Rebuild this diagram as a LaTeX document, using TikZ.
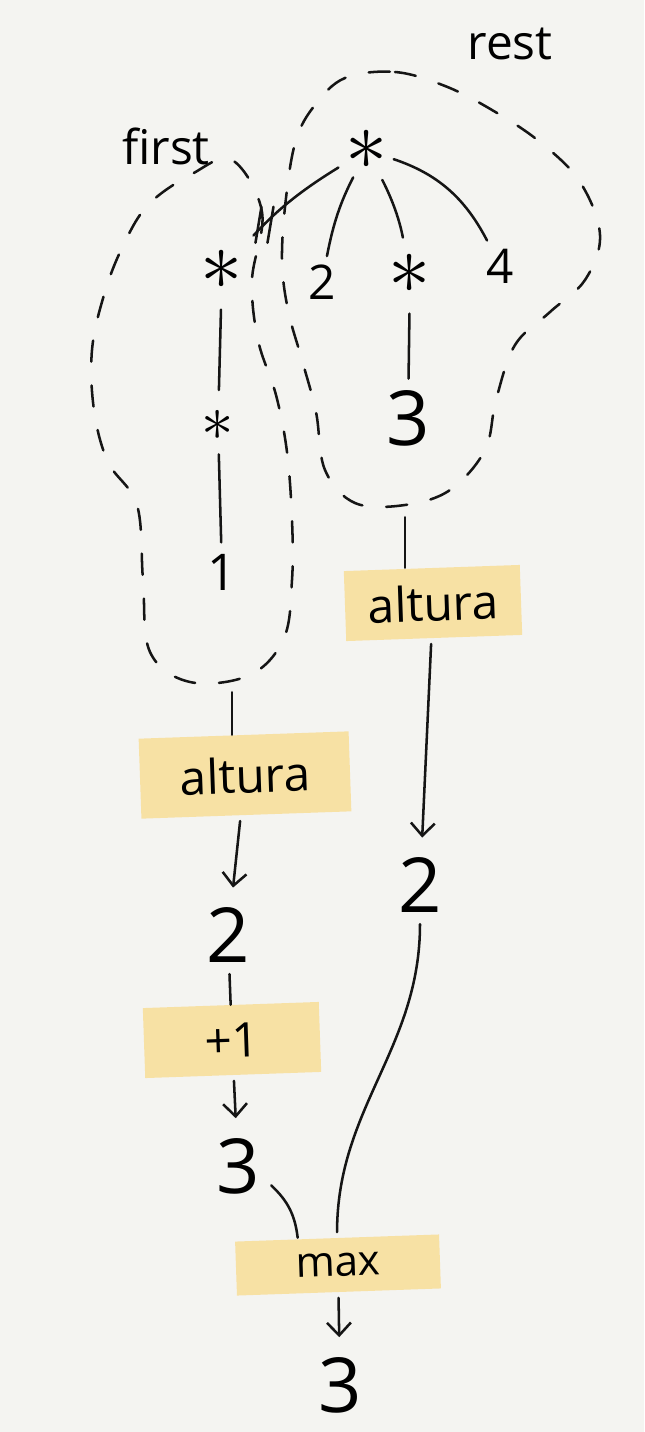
\documentclass[tikz,border=0pt]{standalone}
\usepackage{fontspec}
\usepackage{graphicx}
\setmainfont{Open Sans}
\usetikzlibrary{arrows.meta,calc}
\definecolor{paper}{HTML}{F4F4F1}
\definecolor{hlyellow}{HTML}{F8DF9C}
\definecolor{ink}{HTML}{151515}
\newcommand{\opstar}[1][6]{\scalebox{#1}{$\ast$}}

\begin{document}
\begin{tikzpicture}[x=0.025cm, y=-0.025cm,
  ink/.style={line width=1.8pt, draw=ink, line cap=round},
  loopline/.style={ink, dash pattern=on 15pt off 17pt},
  flow/.style={ink, shorten >=6pt, -{Straight Barb[length=9pt,width=17pt]}},
  star/.style={inner sep=0pt},
  sym/.style={font=\fontsize{34}{38}\selectfont, inner sep=4pt},
  val/.style={font=\fontsize{54}{60}\selectfont, inner sep=8pt},
  fn/.style={font=\fontsize{34}{40}\selectfont, fill=hlyellow, fill opacity=.9, text opacity=1, rotate=2, inner sep=0pt},
  lbl/.style={font=\fontsize{34}{40}\selectfont}
  ]
  \fill[paper] (0,0) rectangle (644,1432);

  % tree
  \node[star] (root) at (367,150) {\opstar};
  \node[star] (lmul) at (222,270) {\opstar};
  \node[sym] (two) at (322,282) {2};
  \node[star] (rmul) at (410,274) {\opstar};
  \node[sym] (four) at (500,266) {4};
  \node[star] (lmul2) at (218,425) {\opstar[4.6]};
  \node[val] (three) at (408,418) {3};
  \node[val, font=\fontsize{36}{40}\selectfont] (one) at (222,572) {1};

  \draw[ink, shorten <=6pt, shorten >=14pt] (root) to[bend right=8] coordinate[pos=.76] (cut) (lmul);
  \draw[ink] ($(cut)+(-9,18)$) -- ($(cut)+(-3,-18)$)
             ($(cut)+(3,18)$) -- ($(cut)+(9,-18)$);
  \draw[ink, shorten <=6pt, shorten >=2pt] (root) to[bend right=8] (two);
  \draw[ink, shorten <=8pt, shorten >=12pt] (root) to[bend left=8] (rmul);
  \draw[ink, shorten <=4pt, shorten >=2pt] (root) to[bend left=22] (four);
  \draw[ink, shorten <=14pt, shorten >=14pt] (lmul) -- (lmul2);
  \draw[ink, shorten <=10pt] (lmul2) -- (one);
  \draw[ink, shorten <=14pt] (rmul) -- (three);

  % first / rest
  \node[lbl] (first) at (166,146) {first};
  \node[lbl] (rest) at (510,44) {rest};
  \draw[loopline] plot[smooth cycle, tension=.6] coordinates {
    (232,160) (262,212) (252,280) (258,340) (276,395) (287,452) (292,520)
    (292,580) (284,638) (250,675) (190,682) (150,652) (143,580) (137,505)
    (108,462) (94,410) (92,350) (104,295) (122,248) (148,205) (192,174)};
  \draw[loopline] plot[smooth cycle, tension=.6] coordinates {
    (345,78) (395,72) (445,86) (492,110) (540,142) (580,182) (600,235)
    (585,280) (550,312) (515,345) (496,400) (485,450) (450,490) (405,505)
    (355,503) (325,470) (316,412) (302,360) (288,310) (282,260) (286,198)
    (296,140) (315,105)};
  \coordinate (firstbot) at (232,681);
  \coordinate (restbot) at (405,506);

  % evaluation
  \node[fn, minimum width=4.4cm, minimum height=1.75cm] (altR) at (433,603) {altura};
  \node[fn, minimum width=5.25cm, minimum height=2cm] (altL) at (245,775) {altura};
  \node[val] (twoL) at (228,935) {2};
  \node[val] (twoR) at (420,885) {2};
  \node[fn, minimum width=4.4cm, minimum height=1.75cm] (plus) at (232,1040) {+1};
  \node[val] (threeL) at (238,1166) {3};
  \node[fn, font=\fontsize{30}{36}\selectfont, minimum width=5.1cm, minimum height=1.35cm] (max) at (338,1265) {max};
  \node[val] (res) at (340,1385) {3};

  \draw[ink, shorten <=8pt] (restbot) -- (restbot |- altR.north);
  \draw[flow, shorten <=4pt] (altR) -- (twoR);
  \draw[ink, shorten <=8pt] (firstbot) -- (firstbot |- altL.north);
  \draw[flow, shorten <=4pt] (altL) -- (twoL);
  \draw[ink] (twoL) -- (plus);
  \draw[flow, shorten <=4pt] (plus) -- (threeL);
  \draw[ink] (threeL) to[bend left=20] ([xshift=-28pt]max.north);
  \draw[ink] (twoR) to[out=-90, in=90] ([yshift=4pt]max.north);
  \draw[flow, shorten <=4pt] (max) -- (res);
\end{tikzpicture}
\end{document}
